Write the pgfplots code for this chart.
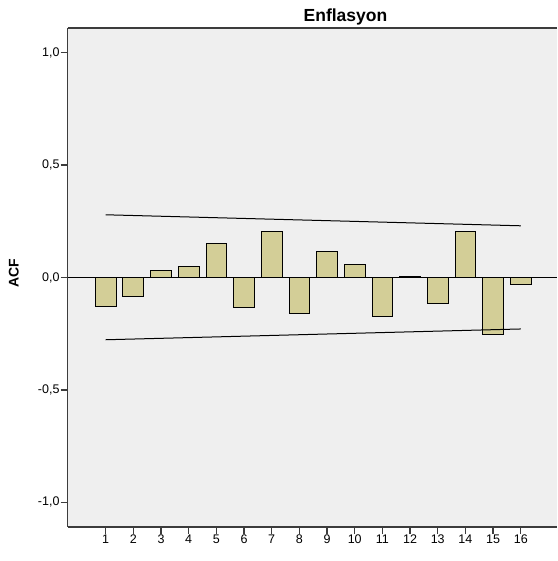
\documentclass[border=0pt]{standalone}
\usepackage{pgfplots}
\pgfplotsset{compat=1.18}
\usepackage{fontspec}
\setmainfont{Liberation Sans}
\definecolor{bgc}{RGB}{239,239,239}
\definecolor{barc}{RGB}{211,206,151}
\definecolor{axc}{RGB}{60,60,60}
\begin{document}
\begin{tikzpicture}
\path[use as bounding box] (-67.7pt,-34pt) rectangle (489.3pt,527pt);
\begin{axis}[
  at={(0pt,0pt)}, anchor=south west,
  scale only axis, width=489.3pt, height=499pt,
  xmin=-0.373, xmax=17.31, ymin=-1.11, ymax=1.11,
  axis x line*=bottom, axis y line*=left,
  axis line style={axc, line width=1.5pt},
  axis background/.style={fill=bgc},
  xtick={1,...,16}, ytick={-1,-0.5,0,0.5,1},
  tick align=outside, major tick length=7pt,
  every tick/.style={axc, line width=1.4pt},
  /pgf/number format/assume math mode=true,
  yticklabel style={/pgf/number format/.cd, fixed, fixed zerofill, precision=1, use comma},
  ticklabel style={font=\fontsize{12.5}{14}\selectfont, inner sep=1pt},
  clip=false,
]
\addplot[ybar, bar width=0.75, bar shift=0pt, fill=barc, draw=black, line width=1pt] coordinates {
(1,-0.129) (2,-0.084) (3,0.030) (4,0.051) (5,0.151) (6,-0.133) (7,0.206) (8,-0.160)
(9,0.116) (10,0.056) (11,-0.173) (12,0.003) (13,-0.114) (14,0.203) (15,-0.252) (16,-0.029)
};
\addplot[black, line width=1pt, no marks] coordinates {(-0.373,0) (17.31,0)};
\addplot[black, line width=1pt, no marks] coordinates {(1,0.279) (16,0.230)};
\addplot[black, line width=1pt, no marks] coordinates {(1,-0.277) (16,-0.229)};
\end{axis}
\draw[axc, line width=1.5pt] (0pt,499pt) -- (489.3pt,499pt);
\node[anchor=base, inner sep=0pt, font=\bfseries\fontsize{17.5}{20}\selectfont] at (277.8pt,505.3pt) {Enflasyon};
\node[rotate=90, inner sep=0pt, font=\bfseries\fontsize{14}{16}\selectfont] at (-54pt,254pt) {ACF};
\end{tikzpicture}
\end{document}
